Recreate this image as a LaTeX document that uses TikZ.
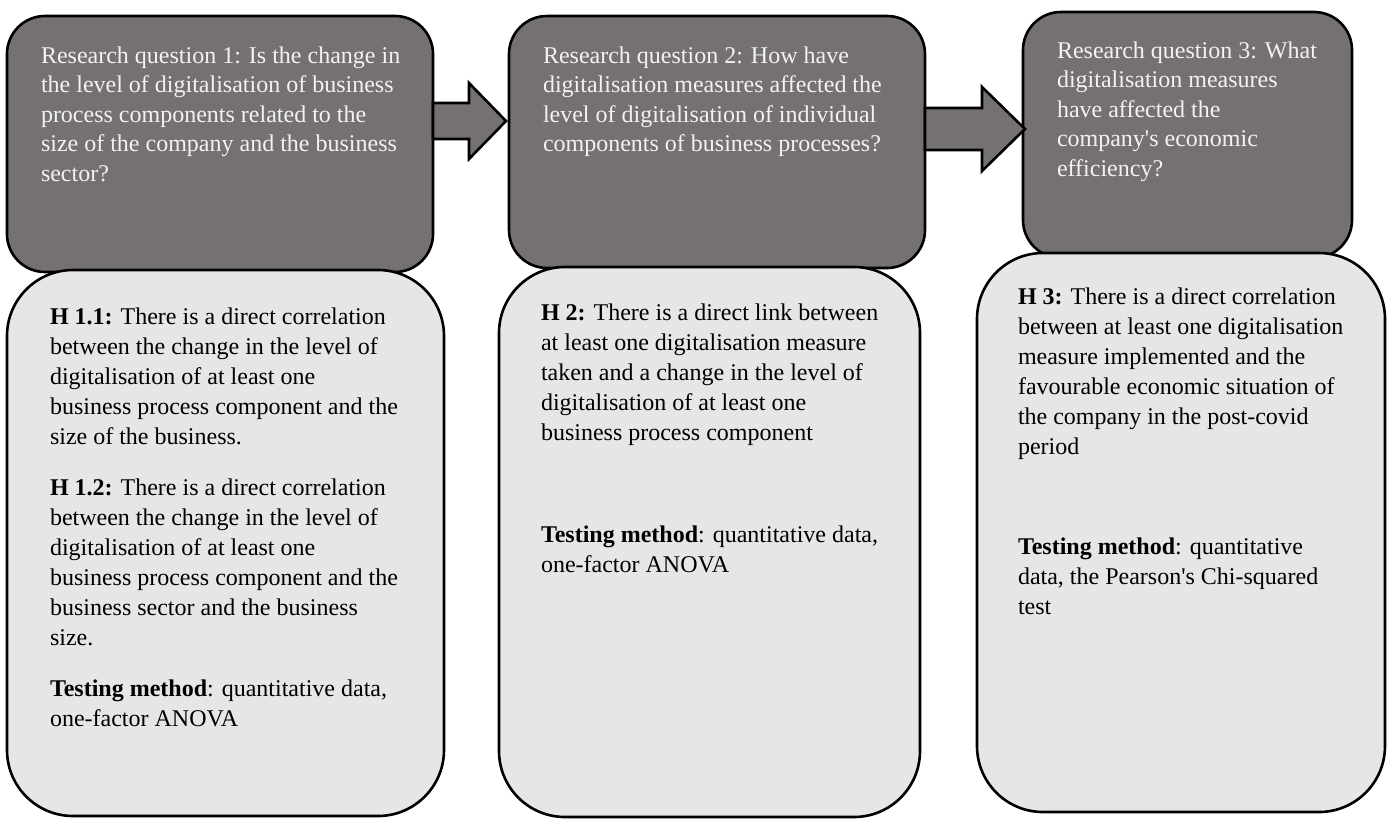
\documentclass[tikz,border=0pt]{standalone}
\usepackage{fontspec}
\setmainfont{Liberation Serif}
\usetikzlibrary{calc,positioning}

\definecolor{qfill}{HTML}{767171}
\definecolor{hfill}{HTML}{E6E6E6}
\definecolor{qtext}{HTML}{F2F2F2}

\begin{document}
\begin{tikzpicture}[x=1pt,y=-1pt,
    every node/.append style={align=left,inner sep=0pt,outer sep=0pt},
    qbox/.style={draw,line width=2.6pt,fill=qfill,rounded corners=38pt,anchor=north west},
    hbox/.style={draw,line width=2.6pt,fill=hfill,rounded corners=66pt,anchor=north west},
    qtxt/.style={anchor=north west,text=qtext,font=\fontsize{24}{29.5}\selectfont},
    htxt/.style={anchor=north west,font=\fontsize{24}{30}\selectfont},
    barrow/.style={draw,line width=2.6pt,fill=qfill,line join=miter}]
    \useasboundingbox (0,0) rectangle (1387,820);

    % research questions
    \node [qbox,minimum width=426pt,minimum height=256pt] (q1) at (7,16) {};
    \node [qbox,minimum width=416pt,minimum height=252pt] (q2) at (509,16) {};
    \node [qbox,minimum width=329pt,minimum height=246pt] (q3) at (1023,12) {};

    % hypotheses, drawn over the bottom of the questions
    \node [hbox,minimum width=437pt,minimum height=546pt] (h1) at (7,270) {};
    \node [hbox,minimum width=421pt,minimum height=550pt] (h2) at (499,267) {};
    \node [hbox,minimum width=408pt,minimum height=559pt] (h3) at (977,253) {};

    % texts, first line starts with a strut so the top is fixed
    \node [qtxt] (q1t) at ([shift={(34,26.4)}]q1.north west)
        {\strut Research question 1: Is the change in\\ the level of digitalisation of business\\
         process components related to the\\ size of the company and the business\\ sector?};
    \node [qtxt] (q2t) at ([shift={(34,26.4)}]q2.north west)
        {\strut Research question 2: How have\\ digitalisation measures affected the\\
         level of digitalisation of individual\\ components of business processes?};
    \node [qtxt] (q3t) at ([shift={(34,25.4)}]q3.north west)
        {\strut Research question 3: What\\ digitalisation measures\\ have affected the\\
         company\textquotesingle s economic\\ efficiency?};

    \node [htxt] (h1t) at ([shift={(43,33)}]h1.north west)
        {\strut\textbf{H 1.1:} There is a direct correlation\\ between the change in the level of\\
         digitalisation of at least one\\ business process component and the\\
         size of the business.\\[21pt]
         \textbf{H 1.2:} There is a direct correlation\\ between the change in the level of\\
         digitalisation of at least one\\ business process component and the\\
         business sector and the business\\ size.\\[21pt]
         \textbf{Testing method}: quantitative data,\\ one-factor ANOVA};
    \node [htxt] (h2t) at ([shift={(42,32)}]h2.north west)
        {\strut\textbf{H 2:} There is a direct link between\\ at least one digitalisation measure\\
         taken and a change in the level of\\ digitalisation of at least one\\
         business process component\\[72pt]
         \textbf{Testing method}: quantitative data,\\ one-factor ANOVA};
    \node [htxt] (h3t) at ([shift={(41,30)}]h3.north west)
        {\strut\textbf{H 3:} There is a direct correlation\\ between at least one digitalisation\\
         measure implemented and the\\ favourable economic situation of\\
         the company in the post-covid\\ period\\[70pt]
         \textbf{Testing method}: quantitative\\ data, the Pearson\textquotesingle s Chi-squared\\ test};

    % block arrows between the questions
    \coordinate (a1s) at ([yshift=23pt]q1.east);
    \coordinate (a1e) at ([xshift=-3pt,yshift=21pt]q2.west);
    \coordinate (a2s) at ([yshift=13pt]q2.east);
    \coordinate (a2e) at ([xshift=2pt,yshift=6pt]q3.west);
    \foreach \s/\e/\h/\H/\L in {a1s/a1e/18/38/37, a2s/a2e/21/42/43}
        \draw [barrow] ($(\s)+(0,-\h)$) -- ($(\e)+(-\L,-\h)$) -- ($(\e)+(-\L,-\H)$) -- (\e)
            -- ($(\e)+(-\L,\H)$) -- ($(\e)+(-\L,\h)$) -- ($(\s)+(0,\h)$) -- cycle;
\end{tikzpicture}
\end{document}
